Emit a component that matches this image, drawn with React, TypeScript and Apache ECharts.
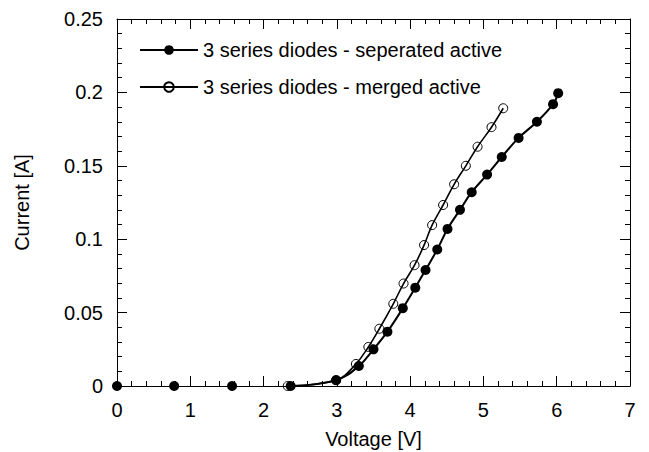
import React, { useEffect, useRef } from "react";
import * as echarts from "echarts";

const sepName = "3 series diodes - seperated active";
const mrgName = "3 series diodes - merged active";

const sepV = [0, 0.78, 1.57, 2.37, 2.99, 3.3, 3.5, 3.69, 3.9, 4.07, 4.21, 4.37, 4.51, 4.68, 4.84, 5.05, 5.25, 5.48, 5.73, 5.95, 6.02];
const sepI = [0, 0, 0, 0, 0.004, 0.0136, 0.025, 0.037, 0.053, 0.067, 0.079, 0.093, 0.107, 0.12, 0.132, 0.144, 0.156, 0.169, 0.18, 0.192, 0.1995];

const mrgV = [2.33, 2.99, 3.26, 3.43, 3.58, 3.77, 3.91, 4.06, 4.19, 4.3, 4.45, 4.6, 4.76, 4.92, 5.11, 5.27];
const mrgI = [0, 0.004, 0.015, 0.0266, 0.039, 0.056, 0.0698, 0.0823, 0.096, 0.1096, 0.1233, 0.1374, 0.15, 0.163, 0.1763, 0.1892];

const FONT = 'Arial, "Liberation Sans", sans-serif';
const FS = 20;

export default function App() {
  const ref = useRef<HTMLDivElement>(null);
  useEffect(() => {
    if (!ref.current) return;
    const chart = echarts.init(ref.current, undefined, { renderer: "svg" });
    const sepPairs = sepV.map((v, i) => [v, sepI[i]]);
    const mrgPairs = mrgV.map((v, i) => [v, mrgI[i]]);
    const axisCommon = {
      axisLine: { show: true, onZero: false, lineStyle: { color: "#000", width: 1 } },
      axisTick: { show: true, inside: true, length: 10, lineStyle: { color: "#000" } },
      minorTick: { show: true, splitNumber: 5, length: 5, lineStyle: { color: "#000" } },
      splitLine: { show: false },
      minorSplitLine: { show: false },
    };
    chart.setOption({
      animation: false,
      backgroundColor: "#fff",
      textStyle: { fontFamily: FONT },
      grid: { left: 117, right: 19, top: 19, bottom: 66, outerBoundsMode: "none" },
      legend: {
        orient: "vertical",
        left: 134,
        top: 35,
        itemWidth: 58,
        itemHeight: 12,
        itemGap: 17,
        textStyle: { fontFamily: FONT, fontSize: FS, lineHeight: 20, color: "#000" },
        data: [sepName, mrgName],
      },
      xAxis: [
        {
          type: "value",
          min: 0,
          max: 7,
          interval: 1,
          position: "bottom",
          name: "Voltage [V]",
          nameLocation: "middle",
          nameGap: 43,
          nameTextStyle: { fontFamily: FONT, fontSize: FS, color: "#000" },
          axisLabel: { fontFamily: FONT, fontSize: FS, color: "#000", margin: 14 },
          ...axisCommon,
        },
        {
          type: "value",
          min: 0,
          max: 7,
          interval: 1,
          position: "top",
          axisLabel: { show: false },
          ...axisCommon,
        },
      ],
      yAxis: [
        {
          type: "value",
          min: 0,
          max: 0.25,
          interval: 0.05,
          position: "left",
          name: "Current [A]",
          nameLocation: "middle",
          nameGap: 85,
          nameTextStyle: { fontFamily: FONT, fontSize: FS, color: "#000" },
          axisLabel: { fontFamily: FONT, fontSize: FS, color: "#000", margin: 14 },
          ...axisCommon,
        },
        {
          type: "value",
          min: 0,
          max: 0.25,
          interval: 0.05,
          position: "right",
          axisLabel: { show: false },
          ...axisCommon,
        },
      ],
      series: [
        {
          name: sepName,
          type: "line",
          xAxisIndex: 0,
          yAxisIndex: 0,
          data: sepPairs.slice(3),
          smooth: 0.4,
          symbol: "circle",
          symbolSize: 10,
          itemStyle: { color: "#000", opacity: 1 },
          lineStyle: { color: "#000", width: 2 },
          z: 3,
        },
        {
          name: sepName,
          type: "scatter",
          xAxisIndex: 0,
          yAxisIndex: 0,
          data: sepPairs.slice(0, 3),
          symbol: "circle",
          symbolSize: 10,
          itemStyle: { color: "#000", opacity: 1 },
          z: 3,
        },
        {
          name: mrgName,
          type: "line",
          xAxisIndex: 0,
          yAxisIndex: 0,
          data: mrgPairs,
          smooth: 0.4,
          symbol: "circle",
          symbolSize: 9,
          itemStyle: { color: "rgba(255,255,255,0)", borderColor: "#000", borderWidth: 1 },
          lineStyle: { color: "#000", width: 1.6 },
          z: 2,
        },
      ],
    });
    return () => chart.dispose();
  }, []);
  return (
    <div
      ref={ref}
      style={{ position: "fixed", left: 0, top: 0, width: 649, height: 452, background: "#fff" }}
    />
  );
}
